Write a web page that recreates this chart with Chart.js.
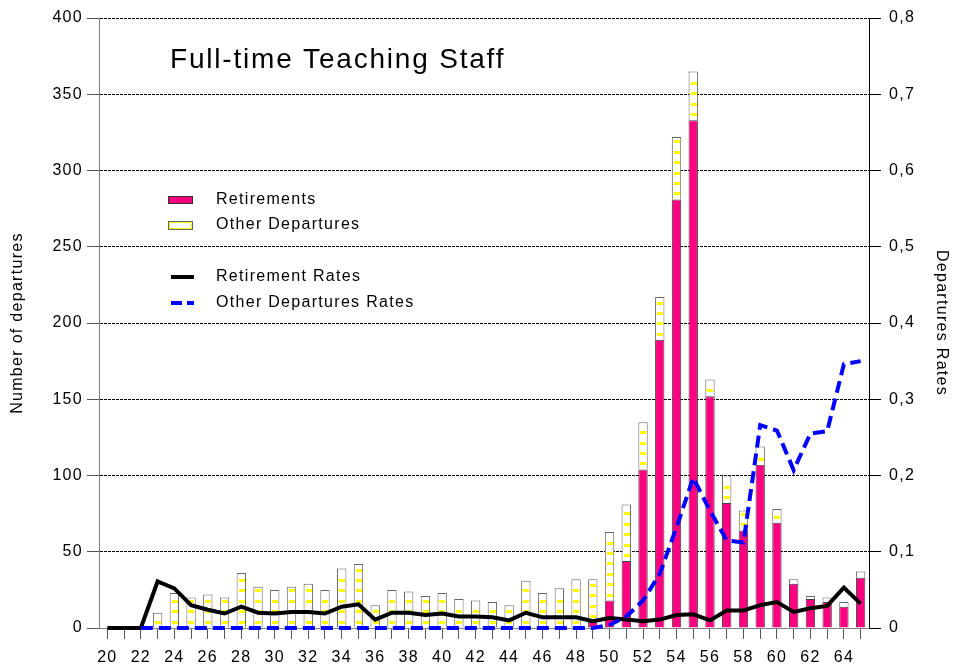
<!DOCTYPE html>
<html>
<head>
<meta charset="utf-8">
<title>Full-time Teaching Staff</title>
<script src="https://cdn.jsdelivr.net/npm/chart.js@4.4.1/dist/chart.umd.min.js"></script>
<style>
  html, body { margin: 0; padding: 0; background: #fff; }
  #wrap { position: relative; width: 953px; height: 666px; }
</style>
</head>
<body>
<div id="wrap"><canvas id="departures"></canvas></div>
<script>
const chartTitle = 'Full-time Teaching Staff';

// age at departure
const ages = [20, 21, 22, 23, 24, 25, 26, 27, 28, 29, 30, 31, 32, 33, 34, 35, 36, 37, 38, 39, 40, 41, 42,
              43, 44, 45, 46, 47, 48, 49, 50, 51, 52, 53, 54, 55, 56, 57, 58, 59, 60, 61, 62, 63, 64, 65];

// number of departures (left axis)
const retirements = [0, 0, 0, 0, 0, 0, 0, 0, 0, 0, 0, 0, 0, 0, 0, 0, 0, 0, 0, 0, 0, 0, 0,
                     0, 0, 0, 0, 0, 0, 4, 18, 44, 104, 189, 281, 333, 152, 82, 64, 107, 69, 29, 19, 17, 14, 33];
const otherDepartures = [0, 0, 0, 10, 23, 20, 22, 20, 36, 27, 25, 27, 29, 25, 39, 42, 15, 25, 24, 21, 23, 19, 18,
                         17, 15, 31, 23, 26, 32, 28, 45, 37, 31, 28, 41, 32, 11, 18, 13, 12, 9, 3, 2, 3, 3, 4];

// rates (right axis)
const retirementRates = [0, 0, 0, 0.061, 0.052, 0.030, 0.024, 0.019, 0.028, 0.020, 0.019, 0.021, 0.021, 0.019,
                         0.028, 0.031, 0.011, 0.020, 0.020, 0.017, 0.019, 0.015, 0.015, 0.014, 0.010, 0.020,
                         0.014, 0.014, 0.014, 0.009, 0.013, 0.011, 0.009, 0.011, 0.017, 0.018, 0.010, 0.023,
                         0.023, 0.030, 0.034, 0.021, 0.026, 0.029, 0.053, 0.032];
const otherRates = [null, null, 0, 0, 0, 0, 0, 0, 0, 0, 0, 0, 0, 0, 0, 0, 0, 0, 0, 0, 0, 0, 0,
                    0, 0, 0, 0, 0, 0, 0, 0.004, 0.015, 0.036, 0.071, 0.132, 0.197, 0.154, 0.115, 0.112,
                    0.266, 0.259, 0.207, 0.255, 0.258, 0.346, 0.350];

const FONT = "'Liberation Sans', Arial, Helvetica, sans-serif";
Chart.defaults.font.family = FONT;
Chart.defaults.font.size = 16;
Chart.defaults.color = '#000';

// the original's text runs a bit wider than plain Arial
const wideText = {
    id: 'wideText',
    beforeLayout(chart) { chart.ctx.letterSpacing = '1.3px'; },
    beforeDraw(chart) { chart.ctx.letterSpacing = '1.3px'; }
};

// yellow dashes inside the "other departures" bars
const stripes = {
    id: 'stripes',
    afterDatasetDraw(chart, args) {
        if (args.index !== 1) return;
        const ctx = chart.ctx;
        ctx.save();
        ctx.fillStyle = '#ffff00';
        args.meta.data.forEach(bar => {
            const { x, y, base, width } = bar.getProps(['x', 'y', 'base', 'width'], true);
            if (base - y < 4) return;
            const left = Math.round(x - width / 2) + 2;
            const w = Math.round(width) - 3;
            for (let s = base - 6; s - 1 > y + 1; s -= 10.4) {
                ctx.fillRect(left, Math.round(s - 1), w, 3);
            }
        });
        ctx.restore();
    }
};

// title + legend sit inside the plot area
const overlay = {
    id: 'overlay',
    afterDraw(chart) {
        const { ctx, chartArea: { left, top } } = chart;
        ctx.save();
        ctx.fillStyle = '#000';
        ctx.letterSpacing = '1.8px';
        ctx.font = `28px ${FONT}`;
        ctx.textBaseline = 'alphabetic';
        ctx.fillText(chartTitle, left + 71, top + 50);

        const bx = left + 69, tx = left + 117;
        // Retirements swatch
        ctx.fillStyle = '#ff0080';
        ctx.fillRect(bx, top + 178, 25, 8);
        ctx.strokeStyle = '#333';
        ctx.lineWidth = 1;
        ctx.strokeRect(bx + 0.5, top + 178.5, 24, 7);
        // Other departures swatch
        ctx.fillStyle = '#fff';
        ctx.fillRect(bx, top + 203, 25, 9);
        ctx.strokeStyle = '#ffff00';
        ctx.lineWidth = 1;
        ctx.strokeRect(bx + 1.5, top + 204.5, 22, 6);
        ctx.strokeStyle = '#666';
        ctx.strokeRect(bx + 0.5, top + 203.5, 24, 8);
        // rate lines
        ctx.lineWidth = 4;
        ctx.strokeStyle = '#000';
        ctx.beginPath();
        ctx.moveTo(bx + 3, top + 259);
        ctx.lineTo(bx + 26, top + 259);
        ctx.stroke();
        ctx.strokeStyle = '#0000ff';
        ctx.setLineDash([11, 5]);
        ctx.beginPath();
        ctx.moveTo(bx + 3, top + 285);
        ctx.lineTo(bx + 26, top + 285);
        ctx.stroke();
        ctx.setLineDash([]);

        ctx.fillStyle = '#000';
        ctx.letterSpacing = '1.3px';
        ctx.font = `16px ${FONT}`;
        ctx.textBaseline = 'middle';
        ctx.fillText('Retirements', tx, top + 182);
        ctx.fillText('Other Departures', tx, top + 207);
        ctx.fillText('Retirement Rates', tx, top + 259);
        ctx.fillText('Other Departures Rates', tx, top + 285);
        ctx.restore();
    }
};

new Chart(document.getElementById('departures'), {
    data: {
        labels: ages,
        datasets: [
            {
                type: 'bar',
                label: 'Retirements',
                data: retirements,
                backgroundColor: '#ff0080',
                borderColor: '#444',
                borderWidth: 1,
                barPercentage: 0.56,
                categoryPercentage: 1,
                yAxisID: 'y',
                order: 2
            },
            {
                type: 'bar',
                label: 'Other Departures',
                data: otherDepartures,
                backgroundColor: '#ffffff',
                borderColor: '#666',
                borderWidth: 1,
                barPercentage: 0.56,
                categoryPercentage: 1,
                yAxisID: 'y',
                order: 2
            },
            {
                type: 'line',
                label: 'Retirement Rates',
                data: retirementRates,
                borderColor: '#000',
                borderWidth: 4,
                pointRadius: 0,
                tension: 0,
                clip: false,
                yAxisID: 'y1',
                order: 1
            },
            {
                type: 'line',
                label: 'Other Departures Rates',
                data: otherRates,
                borderColor: '#0000ff',
                borderWidth: 4,
                borderDash: [12, 6],
                pointRadius: 0,
                tension: 0,
                clip: false,
                yAxisID: 'y1',
                order: 0
            }
        ]
    },
    options: {
        responsive: true,
        maintainAspectRatio: false,
        animation: false,
        layout: { padding: { top: 18, left: 0, right: 0, bottom: 0 } },
        plugins: {
            legend: { display: false },
            tooltip: { enabled: false }
        },
        scales: {
            x: {
                stacked: true,
                grid: { drawOnChartArea: false, offset: false, tickLength: 11, tickColor: '#555' },
                border: { color: '#808080', width: 1 },
                ticks: {
                    autoSkip: false,
                    maxRotation: 0,
                    padding: 9,
                    callback: (v, i) => (ages[i] % 2 === 0 ? String(ages[i]) : '')
                },
                afterFit: s => { s.height = 38; }
            },
            y: {
                stacked: true,
                position: 'left',
                min: 0,
                max: 400,
                ticks: { stepSize: 50, padding: 4 },
                grid: {
                    color: c => (c.tick && c.tick.value === 0 ? 'rgba(0,0,0,0)' : '#000'),
                    lineWidth: 1,
                    tickLength: 12,
                    tickColor: '#555'
                },
                border: { color: '#808080', width: 1, dash: [3, 1] },
                title: { display: true, text: 'Number of departures', padding: { top: 8, bottom: 0 } },
                afterFit: s => { s.width = 99; }
            },
            y1: {
                position: 'right',
                min: 0,
                max: 0.8,
                ticks: {
                    stepSize: 0.1,
                    padding: 8,
                    callback: v => (v === 0 ? '0' : v.toFixed(1).replace('.', ','))
                },
                grid: { drawOnChartArea: false, tickLength: 12, tickColor: '#000' },
                border: { color: '#000', width: 1 },
                title: { display: true, text: 'Departures Rates', padding: { top: 2, bottom: 0 } },
                afterFit: s => { s.width = 84; }
            }
        }
    },
    plugins: [wideText, stripes, overlay]
});
</script>
</body>
</html>
